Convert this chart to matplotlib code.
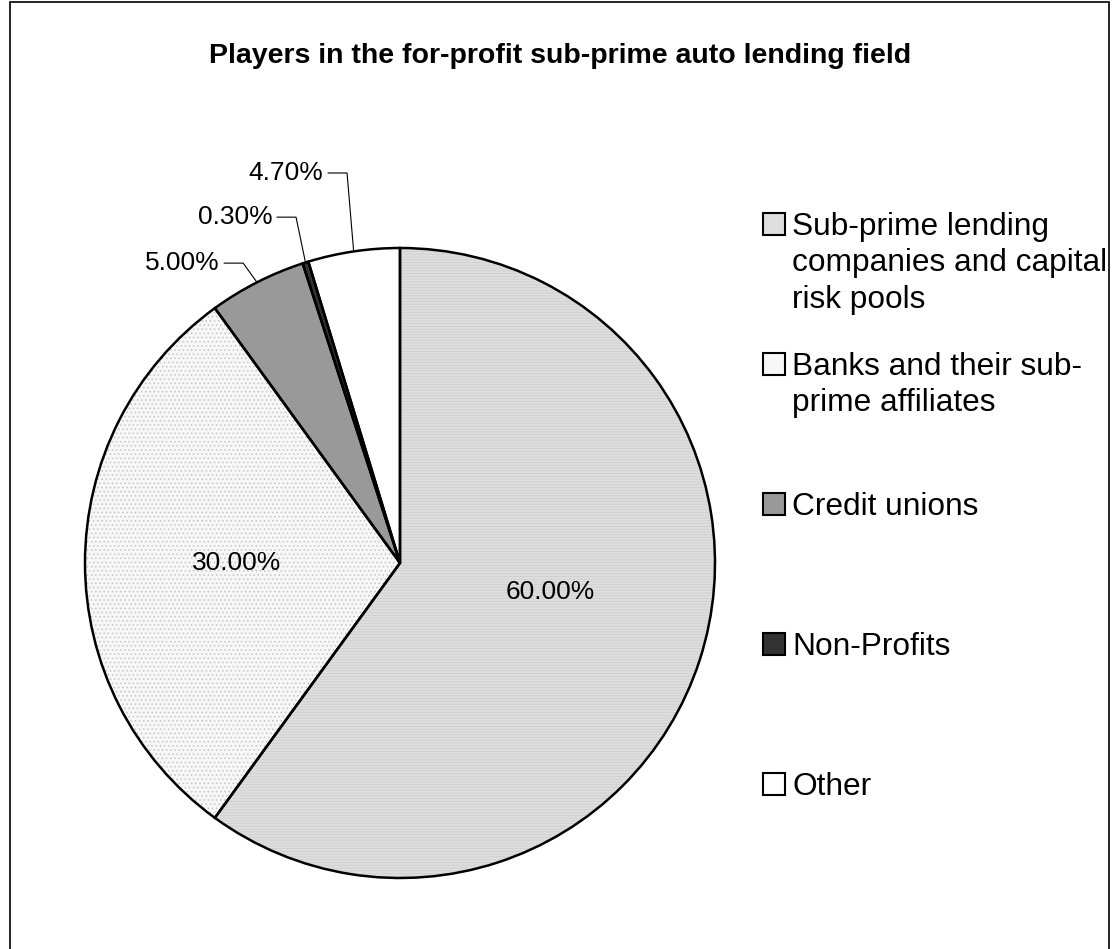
import numpy as np
import matplotlib.pyplot as plt
from matplotlib.patches import Rectangle, Wedge

plt.rcParams['font.family'] = ['Liberation Sans', 'DejaVu Sans']
plt.rcParams['hatch.linewidth'] = 0.6

# Data
title = 'Players in the for-profit sub-prime auto lending field'
categories = ['Sub-prime lending\ncompanies and capital\nrisk pools',
              'Banks and their sub-\nprime affiliates',
              'Credit unions',
              'Non-Profits',
              'Other']
shares = [60.0, 30.0, 5.0, 0.3, 4.7]

# Styles
colors = ['#dedede', '#f7f7f7', '#999999', '#333333', '#ffffff']
hatches = ['------', '....', None, None, None]
hatch_colors = ['#cfcfcf', '#c4c4c4', None, None, None]

# label placement: inside (radius, angle shift) / outside (elbow offset)
inside = {0: (0.485, 7.1), 1: (0.52, 0.0)}
outside = {2: (-0.044, 0.061), 3: (-0.030, 0.144), 4: (-0.021, 0.249)}

W, H = 1112, 949
cx, cy, r = 400, 563, 315

fig = plt.figure(figsize=(W / 100, H / 100), dpi=100)
ax = fig.add_axes([(cx - r) / W, (H - cy - r) / H, 2 * r / W, 2 * r / H])

# base faces
wedges, _ = ax.pie(shares, colors=colors, startangle=90, counterclock=False,
                   wedgeprops=dict(linewidth=0))
# fill textures
for i, w in enumerate(wedges):
    if hatches[i]:
        ax.add_patch(Wedge((0, 0), 1, w.theta1, w.theta2, facecolor='none',
                           edgecolor=hatch_colors[i], hatch=hatches[i], linewidth=0))
# outlines
ax.pie(shares, startangle=90, counterclock=False,
       wedgeprops=dict(fill=False, edgecolor='black', linewidth=1.8))
ax.set_xlim(-1, 1)
ax.set_ylim(-1, 1)
ax.set_aspect('equal')
ax.axis('off')

for i, w in enumerate(wedges):
    mid = (w.theta1 + w.theta2) / 2
    txt = f'{shares[i]:.2f}%'
    if i in inside:
        rr, da = inside[i]
        a = np.radians(mid + da)
        ax.text(rr * np.cos(a), rr * np.sin(a), txt, ha='center', va='center',
                fontsize=19)
    else:
        a = np.radians(mid)
        x0, y0 = np.cos(a), np.sin(a)
        dx, dy = outside[i]
        x1, y1 = x0 + dx, y0 + dy
        x2 = x1 - 0.06
        ax.plot([x0, x1, x2], [y0, y1, y1], color='black', lw=0.8, clip_on=False)
        ax.text(x2 - 0.015, y1, txt, ha='right', va='center', fontsize=19)

# legend, first line of each entry level with its swatch
for i, lab in enumerate(categories):
    y = 224 + 140 * i
    fig.add_artist(Rectangle((763 / W, (H - y - 11) / H), 22 / W, 22 / H,
                             transform=fig.transFigure, facecolor=colors[i],
                             edgecolor='black', lw=1.5))
    for k, line in enumerate(lab.split('\n')):
        fig.text(792 / W, (H - y - 11 - 36.5 * k) / H, line, ha='left',
                 va='baseline', fontsize=22.8)

fig.text(560 / W, 1 - 56 / H, title, ha='center', va='center',
         fontsize=20.5, weight='bold')

fig.add_artist(Rectangle((10 / W, -5 / H), 1099 / W, 952 / H, fill=False,
                         edgecolor='black', lw=1.2, transform=fig.transFigure))

fig.savefig('out.png', dpi=100)
